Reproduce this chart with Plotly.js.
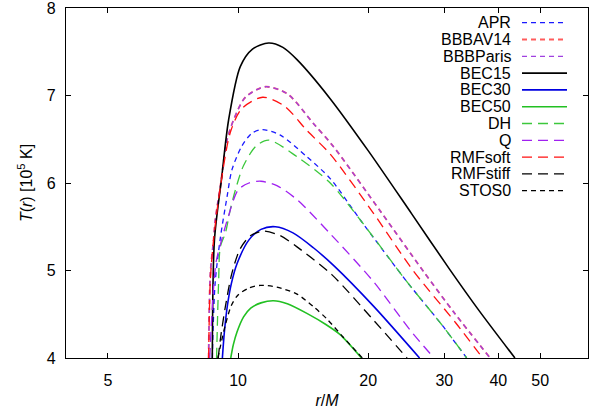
<!DOCTYPE html>
<html>
<head>
<meta charset="utf-8">
<script src="https://cdn.plot.ly/plotly-3.0.1.min.js"></script>
<style>html,body{margin:0;padding:0;background:#fff;}#chart{width:603px;height:413px;}</style>
</head>
<body>
<div id="chart"></div>
<script>
// ---- data ----
const seriesNames = ["APR","BBBAV14","BBBParis","BEC15","BEC30","BEC50","DH","Q","RMFsoft","RMFstiff","STOS0"];

const rAPR = [8.72, 8.85, 9.1, 9.43, 9.68, 10.2, 10.77, 11.4, 12.5, 14.43, 16.34, 19.3, 24.6, 29.6, 33.8];
const tAPR = [4.00, 4.85, 5.37, 5.84, 6.15, 6.42, 6.57, 6.61, 6.55, 6.30, 6.05, 5.56, 4.87, 4.38, 4.00];

const rBBBAV14 = [8.55, 8.63, 8.78, 8.86, 9.10, 9.43, 9.8, 10.4, 11.56, 13.0, 14.94, 16.6, 21.4, 26.85, 31.6, 38.3];
const tBBBAV14 = [4.00, 4.97, 5.35, 5.58, 5.96, 6.49, 6.74, 6.98, 7.10, 7.02, 6.68, 6.42, 5.67, 4.99, 4.52, 4.00];

const rBBBParis = [8.55, 8.63, 8.78, 8.86, 9.10, 9.43, 9.8, 10.4, 11.56, 13.0, 14.94, 16.6, 21.4, 26.85, 31.6, 38.3];
const tBBBParis = [4.00, 4.97, 5.35, 5.58, 5.96, 6.49, 6.74, 6.98, 7.10, 7.02, 6.68, 6.42, 5.67, 4.99, 4.52, 4.00];

const rBEC15 = [8.72, 8.82, 9.15, 9.51, 10.12, 10.8, 11.77, 12.7, 13.69, 16.3, 20.0, 25.2, 30.9, 36.0, 43.7];
const tBEC15 = [4.00, 5.35, 6.03, 6.72, 7.33, 7.53, 7.60, 7.55, 7.41, 6.97, 6.37, 5.65, 5.01, 4.55, 4.00];

const rBEC30 = [9.2, 9.3, 9.45, 9.65, 9.95, 10.6, 11.3, 12.2, 13.4, 14.94, 16.7, 20.6, 26.3];
const tBEC30 = [4.00, 4.30, 4.60, 4.85, 5.08, 5.35, 5.47, 5.50, 5.43, 5.26, 5.05, 4.59, 4.00];

const rBEC50 = [9.62, 9.75, 9.95, 10.3, 10.7, 11.3, 12.08, 13.0, 14.43, 16.0, 17.2, 19.3];
const tBEC50 = [4.00, 4.15, 4.30, 4.47, 4.57, 4.63, 4.655, 4.62, 4.51, 4.38, 4.27, 4.00];

const rDH = [8.92, 9.02, 9.1, 9.35, 9.6, 9.9, 10.3, 11.0, 11.77, 13.69, 16.34, 19.3, 24.6, 29.6, 33.8];
const tDH = [4.00, 4.89, 5.27, 5.43, 5.70, 5.95, 6.20, 6.42, 6.49, 6.30, 6.00, 5.56, 4.87, 4.38, 4.00];

const rQ = [8.6, 8.75, 8.9, 9.2, 9.5, 10.0, 10.6, 11.3, 12.3, 13.69, 16.34, 20.6, 25.0, 28.4];
const tQ = [4.00, 4.70, 5.10, 5.38, 5.62, 5.92, 6.00, 6.02, 5.97, 5.81, 5.42, 4.87, 4.32, 4.00];

const rRMFsoft = [8.55, 8.63, 8.8, 9.1, 9.6, 10.2, 11.4, 12.8, 14.43, 16.34, 20.6, 25.4, 31.9, 36.8];
const tRMFsoft = [4.00, 4.90, 5.40, 5.95, 6.58, 6.85, 6.98, 6.88, 6.60, 6.33, 5.65, 5.00, 4.40, 4.00];

const rRMFstiff = [9.0, 9.1, 9.35, 9.68, 10.12, 10.7, 11.46, 12.5, 13.69, 16.5, 20.6, 24.6];
const tRMFstiff = [4.00, 4.21, 4.59, 4.97, 5.25, 5.40, 5.45, 5.40, 5.27, 4.95, 4.43, 4.00];

const rSTOS0 = [8.98, 9.1, 9.35, 9.65, 10.0, 10.6, 11.26, 12.3, 13.69, 15.0, 16.1, 17.5, 19.4];
const tSTOS0 = [4.00, 4.13, 4.38, 4.60, 4.72, 4.80, 4.83, 4.81, 4.73, 4.58, 4.44, 4.24, 4.00];

const xTickVals = [5, 10, 20, 30, 40, 50];
const xTickText = ["5", "10", "20", "30", "40", "50"];
const yTickVals = [4, 5, 6, 7, 8];

// ---- styles ----
const SHORT = "5px,4px";
const LONG = "10px,6px";
const styles = {
  APR:      {color: "#1a1aff", dash: SHORT, width: 1.3},
  BBBAV14:  {color: "#ff5c5c", dash: SHORT, width: 1.8},
  BBBParis: {color: "#a040e0", dash: SHORT, width: 1.3},
  BEC15:    {color: "#000000", dash: "solid", width: 1.6},
  BEC30:    {color: "#0000e0", dash: "solid", width: 1.6},
  BEC50:    {color: "#22c022", dash: "solid", width: 1.6},
  DH:       {color: "#3cc83c", dash: LONG, width: 1.3},
  Q:        {color: "#a020f0", dash: LONG, width: 1.3},
  RMFsoft:  {color: "#ff1010", dash: LONG, width: 1.3},
  RMFstiff: {color: "#000000", dash: LONG, width: 1.3},
  STOS0:    {color: "#000000", dash: SHORT, width: 1.3}
};
const dataMap = {
  APR: [rAPR, tAPR], BBBAV14: [rBBBAV14, tBBBAV14], BBBParis: [rBBBParis, tBBBParis],
  BEC15: [rBEC15, tBEC15], BEC30: [rBEC30, tBEC30], BEC50: [rBEC50, tBEC50],
  DH: [rDH, tDH], Q: [rQ, tQ], RMFsoft: [rRMFsoft, tRMFsoft],
  RMFstiff: [rRMFstiff, tRMFstiff], STOS0: [rSTOS0, tSTOS0]
};

const traces = seriesNames.map(n => ({
  type: "scatter", mode: "lines", name: n,
  x: dataMap[n][0], y: dataMap[n][1],
  line: {color: styles[n].color, dash: styles[n].dash, width: styles[n].width, shape: "spline", smoothing: 0.8},
  showlegend: false, hoverinfo: "skip"
}));

// ---- legend drawn gnuplot-style (text left of sample) ----
const FONT = "Liberation Sans, Arial, sans-serif";
const W = 603, H = 413, ML = 66, MR = 15, MT = 8, MB = 55;
const PW = W - ML - MR, PH = H - MT - MB;
const px = x => (x - ML) / PW;
const py = y => (H - MB - y) / PH;
const annotations = [], shapes = [];
seriesNames.forEach((n, i) => {
  const yc = 22.7 + i * 16.8;
  annotations.push({xref: "paper", yref: "paper", x: px(513), y: py(yc), xanchor: "right", yanchor: "middle",
    text: n, showarrow: false, font: {family: FONT, size: 16, color: "#000"}});
  shapes.push({type: "line", xref: "paper", yref: "paper", x0: px(522), x1: px(567), y0: py(yc), y1: py(yc),
    line: {color: styles[n].color, dash: styles[n].dash, width: styles[n].width}});
});

const layout = {
  width: W, height: H,
  margin: {l: ML, r: MR, t: MT, b: MB, pad: 0},
  paper_bgcolor: "#fff", plot_bgcolor: "#fff",
  font: {family: FONT, size: 16, color: "#000"},
  xaxis: {
    type: "log", range: [Math.log10(4), Math.log10(64.5)],
    tickvals: xTickVals, ticktext: xTickText,
    ticks: "inside", ticklen: 5, tickcolor: "#000", mirror: "allticks",
    showline: true, linecolor: "#000", linewidth: 1.2, showgrid: false, zeroline: false,
    tickfont: {size: 16}, ticklabeloverflow: "allow", ticklabelstandoff: 8,
    title: {text: "<i>r</i>/<i>M</i>", standoff: 6, font: {size: 16}}
  },
  yaxis: {
    range: [4, 8], tickvals: yTickVals,
    ticks: "inside", ticklen: 5, tickcolor: "#000", mirror: "allticks",
    showline: true, linecolor: "#000", linewidth: 1.2, showgrid: false, zeroline: false,
    tickfont: {size: 16}, ticklabeloverflow: "allow", ticklabelstandoff: 6,
    title: {text: "<i>T</i>(<i>r</i>) [10<sup>5</sup> K]", standoff: 10, font: {size: 16}}
  },
  annotations: annotations, shapes: shapes
};

Plotly.newPlot("chart", traces, layout, {displayModeBar: false, staticPlot: true});
</script>
</body>
</html>
